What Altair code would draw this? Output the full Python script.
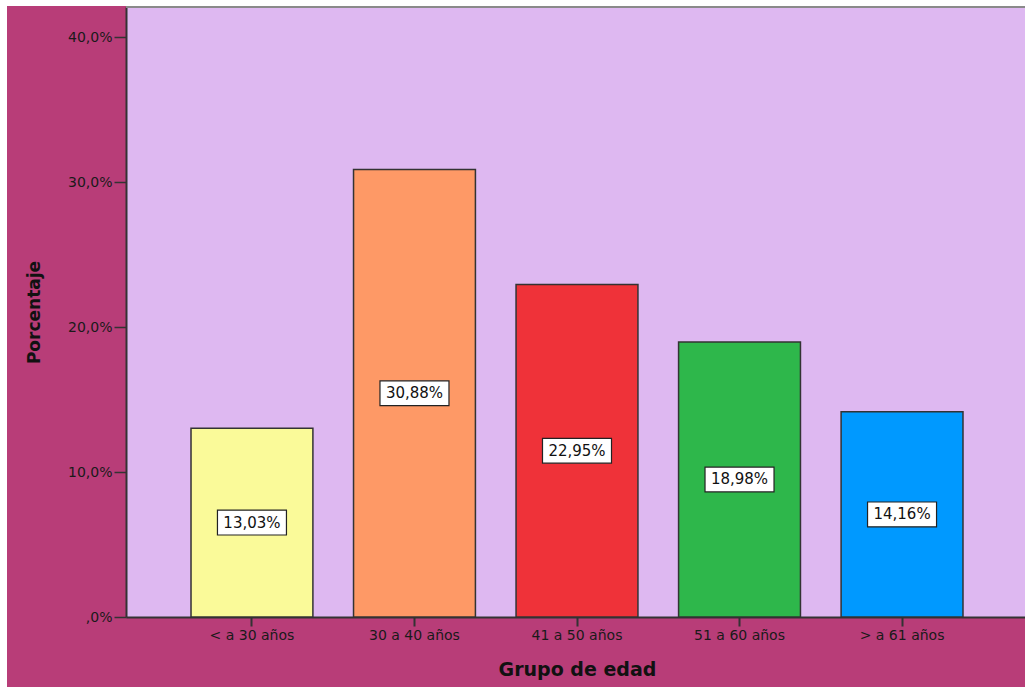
import altair as alt
import pandas as pd

# Age groups and their share of respondents (%)
grupos = ["< a 30 años", "30 a 40 años", "41 a 50 años", "51 a 60 años", "> a 61 años"]
porcentajes = [13.03, 30.88, 22.95, 18.98, 14.16]
colores = ["#FAFA99", "#FE9966", "#EF3239", "#2EB74B", "#0099FF"]
y_ticks = [0, 10, 20, 30, 40]

W, H = 899, 610

df = pd.DataFrame({"grupo": grupos, "pct": porcentajes})

x_enc = alt.X(
    "grupo:N",
    sort=grupos,
    scale=alt.Scale(range=[0, 902], paddingInner=0.25, paddingOuter=0.4),
    axis=alt.Axis(
        title="Grupo de edad",
        labelAngle=0,
        labelFont="DejaVu Sans",
        labelFontSize=14,
        labelColor="#1a1a1a",
        labelPadding=2,
        tickSize=9,
        tickWidth=2,
        tickColor="#333333",
        domainColor="#333333",
        domainWidth=2,
        titleFont="DejaVu Sans",
        titleFontSize=19,
        titleFontWeight="bold",
        titleColor="#111111",
        titleX=451,
        titleY=58,
        titleAlign="center",
        titleBaseline="alphabetic",
    ),
)

y_enc = alt.Y(
    "pct:Q",
    scale=alt.Scale(domain=[0, 42.1], nice=False, zero=True),
    axis=alt.Axis(
        title="Porcentaje",
        values=y_ticks,
        grid=False,
        labelExpr="datum.value == 0 ? ',0%' : replace(format(datum.value, '.1f'), '.', ',') + '%'",
        labelFont="DejaVu Sans",
        labelFontSize=14,
        labelColor="#1a1a1a",
        labelPadding=2,
        tickSize=12,
        tickWidth=1.5,
        tickColor="#333333",
        domainColor="#333333",
        domainWidth=2,
        titleFont="DejaVu Sans",
        titleFontSize=17,
        titleFontWeight="bold",
        titleColor="#111111",
        titleAngle=270,
        titleX=-92,
        titleY=305,
        titleAlign="center",
        titleBaseline="middle",
    ),
)

base = alt.Chart(df)

bars = base.mark_bar(stroke="#333333", strokeWidth=1.5).encode(
    x=x_enc,
    y=y_enc,
    color=alt.Color(
        "grupo:N",
        sort=grupos,
        scale=alt.Scale(domain=grupos, range=colores),
        legend=None,
    ),
)

labelled = base.transform_calculate(
    mid="datum.pct / 2",
    etiqueta="replace(format(datum.pct, '.2f'), '.', ',') + '%'",
)

boxes = labelled.mark_point(
    shape="M-1,-0.36L1,-0.36L1,0.36L-1,0.36Z",
    size=69 * 69,
    filled=True,
    fill="white",
    stroke="#222222",
    strokeWidth=1.2,
    opacity=1,
).encode(
    x=alt.X("grupo:N", sort=grupos),
    y=alt.Y("mid:Q"),
)

texts = labelled.mark_text(
    font="DejaVu Sans",
    fontSize=15,
    color="#111111",
    baseline="middle",
    align="center",
).encode(
    x=alt.X("grupo:N", sort=grupos),
    y=alt.Y("mid:Q"),
    text="etiqueta:N",
)

# Thin white margin on the left and top of the figure
one_row = alt.Data(values=[{"k": 1}])
left_strip = alt.Chart(one_row).mark_rect(color="white").encode(
    x=alt.value(-126), x2=alt.value(-119), y=alt.value(-7), y2=alt.value(H + 70)
)
top_strip = alt.Chart(one_row).mark_rect(color="white").encode(
    x=alt.value(-126), x2=alt.value(W), y=alt.value(-7), y2=alt.value(-1)
)
top_line = alt.Chart(one_row).mark_rule(color="#8a8a8a", strokeWidth=2).encode(
    x=alt.value(0), x2=alt.value(W), y=alt.value(0)
)

chart = (
    alt.layer(left_strip, top_strip, top_line, bars, boxes, texts)
    .properties(
        width=W,
        height=H,
        background="#B83D78",
        padding={"left": 126, "top": 7, "right": 0, "bottom": 70},
        autosize=alt.AutoSizeParams(type="none"),
    )
    .configure_view(fill="#DEB8F1", stroke=None)
)

chart.save("out.html", embed_options={"renderer": "svg", "actions": False})
